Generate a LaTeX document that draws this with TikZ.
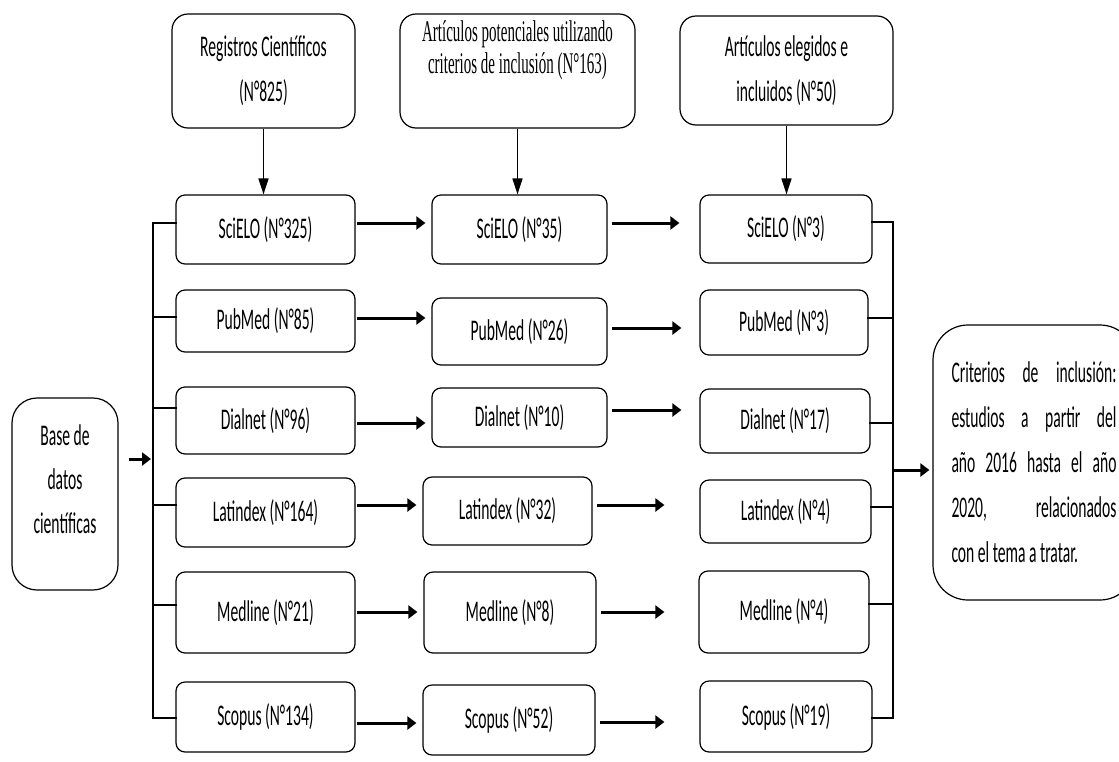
\documentclass[tikz,border=0pt]{standalone}
\usepackage{fontspec}
\setmainfont{Carlito}[FakeStretch=0.52]
\newfontfamily\timesfont{Liberation Serif}[FakeStretch=0.5]
\usetikzlibrary{arrows.meta}

\tikzset{
  box/.style={draw, line width=1.2pt, rounded corners=9pt, align=center, inner sep=2pt,
    font=\fontsize{30}{45}\selectfont},
  topbox/.style={box, rounded corners=16pt},
  arr/.style={-{Triangle[length=9pt,width=13pt]}, line width=3pt},
  downarr/.style={-{Triangle[length=16pt,width=10pt]}, line width=1.5pt},
  bus/.style={line width=2.5pt, line cap=rect},
}
\newcommand{\critline}[1]{\hbox to 165pt{#1}}

\begin{document}
\begin{tikzpicture}
\useasboundingbox (0pt,0pt) rectangle (1119pt,-761pt);
% cabeceras
\node[topbox, minimum width=183pt, minimum height=114pt] (reg) at (263.5pt,-71pt) {Registros Científicos\\(N°825)};
\node[topbox, minimum width=235pt, minimum height=114pt, font=\timesfont\fontsize{30}{32}\selectfont, text depth=48pt] (pot) at (517.5pt,-71pt) {Artículos potenciales utilizando\\criterios de inclusión (N°163)};
\node[topbox, minimum width=213pt, minimum height=109pt] (eleg) at (786.5pt,-70.5pt) {Artículos elegidos e\\incluidos (N°50)};
\node[box, rounded corners=25pt, minimum width=106pt, minimum height=192pt, font=\fontsize{30}{44}\selectfont, text depth=30pt] (base) at (65pt,-494pt) {Base de\\datos\\científicas};
\node[box, rounded corners=35pt, minimum width=202pt, minimum height=275pt, align=left, inner sep=0pt] (crit) at (1034pt,-462.5pt)
  {\critline{Criterios\hfill de\hfill inclusión:}\\
   \critline{estudios\hfill a\hfill partir\hfill del}\\
   \critline{año 2016 hasta el año}\\
   \critline{2020,\hfill relacionados}\\
   \critline{con el tema a tratar.\hfill}};
% columna 1
\node[box, minimum width=179pt, minimum height=69pt] (s1) at (265.5pt,-229.5pt) {SciELO (N°325)};
\node[box, minimum width=179pt, minimum height=62pt] (p1) at (265.5pt,-321pt) {PubMed (N°85)};
\node[box, minimum width=179pt, minimum height=67pt] (d1) at (265.5pt,-420.5pt) {Dialnet (N°96)};
\node[box, minimum width=179pt, minimum height=69pt] (l1) at (265.5pt,-512.5pt) {Latindex (N°164)};
\node[box, minimum width=179pt, minimum height=81pt] (m1) at (265.5pt,-612.5pt) {Medline (N°21)};
\node[box, minimum width=179pt, minimum height=70pt] (c1) at (265.5pt,-717pt) {Scopus (N°134)};
% columna 2
\node[box, minimum width=175pt, minimum height=69pt] (s2) at (519.5pt,-229.5pt) {SciELO (N°35)};
\node[box, minimum width=175pt, minimum height=67pt] (p2) at (519.5pt,-331.5pt) {PubMed (N°26)};
\node[box, minimum width=175pt, minimum height=59pt] (d2) at (519.5pt,-417.5pt) {Dialnet (N°10)};
\node[box, minimum width=169pt, minimum height=68pt] (l2) at (507.5pt,-511pt) {Latindex (N°32)};
\node[box, minimum width=172pt, minimum height=81pt] (m2) at (510pt,-612.5pt) {Medline (N°8)};
\node[box, minimum width=172pt, minimum height=70pt] (c2) at (509pt,-720pt) {Scopus (N°52)};
% columna 3
\node[box, minimum width=172pt, minimum height=68pt] (s3) at (786pt,-229pt) {SciELO (N°3)};
\node[box, minimum width=168pt, minimum height=65pt] (p3) at (784pt,-322.5pt) {PubMed (N°3)};
\node[box, minimum width=170pt, minimum height=64pt] (d3) at (785pt,-421pt) {Dialnet (N°17)};
\node[box, minimum width=171pt, minimum height=63pt] (l3) at (785.5pt,-511.5pt) {Latindex (N°4)};
\node[box, minimum width=170pt, minimum height=82pt] (m3) at (784pt,-612pt) {Medline (N°4)};
\node[box, minimum width=172pt, minimum height=71pt] (c3) at (786pt,-716.5pt) {Scopus (N°19)};
\coordinate (lbus) at (153pt,-459pt);
\coordinate (rbus) at (893pt,-470pt);
% flechas verticales
\draw[downarr] (reg.south) -- (reg.south |- s1.north);
\draw[downarr] (pot.south) -- (pot.south |- s2.north);
\draw[downarr] (eleg.south) -- (eleg.south |- s3.north);
% barras
\draw[bus] ([yshift=6.5pt]s1.west -| lbus) -- ([yshift=-1pt]c1.west -| lbus);
\foreach \n/\dy in {s1/6.5, p1/4, d1/12.5, l1/7.5, m1/7.5, c1/-1}
  \draw[bus] ([yshift=\dy pt]\n.west) -- ([yshift=\dy pt]\n.west -| lbus);
\draw[bus] ([yshift=7pt]s3.east -| rbus) -- ([yshift=-1.5pt]c3.east -| rbus);
\foreach \n/\dy in {s3/7, p3/4.5, d3/-2, l3/4.5, m3/8, c3/-1.5}
  \draw[bus] ([yshift=\dy pt]\n.east) -- ([yshift=\dy pt]\n.east -| rbus);
\draw[arr, shorten <=10pt, shorten >=2pt] ([yshift=35pt]base.east) -- ([yshift=35pt]base.east -| lbus);
\draw[arr, shorten >=3pt] ([yshift=-7.5pt]crit.west -| rbus) -- ([yshift=-7.5pt]crit.west);
% flechas horizontales
\foreach \a/\b/\dy in {s1/s2/6.5, p1/p2/3, d1/d2/-2.5, l1/l2/7.5, m1/m2/0.5, c1/c2/-6}
  \draw[arr, shorten <=1pt, shorten >=6pt] ([yshift=\dy pt]\a.east) -- ([yshift=\dy pt]\a.east -| \b.west);
\foreach \a/\b/\dy/\gap in {s2/s3/6.5/20, p2/p3/3.5/18, d2/d3/7.5/18, l2/l3/6/35, m2/m3/0.5/34, c2/c3/-2/35}
  \draw[arr, shorten <=4pt, shorten >=\gap pt] ([yshift=\dy pt]\a.east) -- ([yshift=\dy pt]\a.east -| \b.west);
\end{tikzpicture}
\end{document}
